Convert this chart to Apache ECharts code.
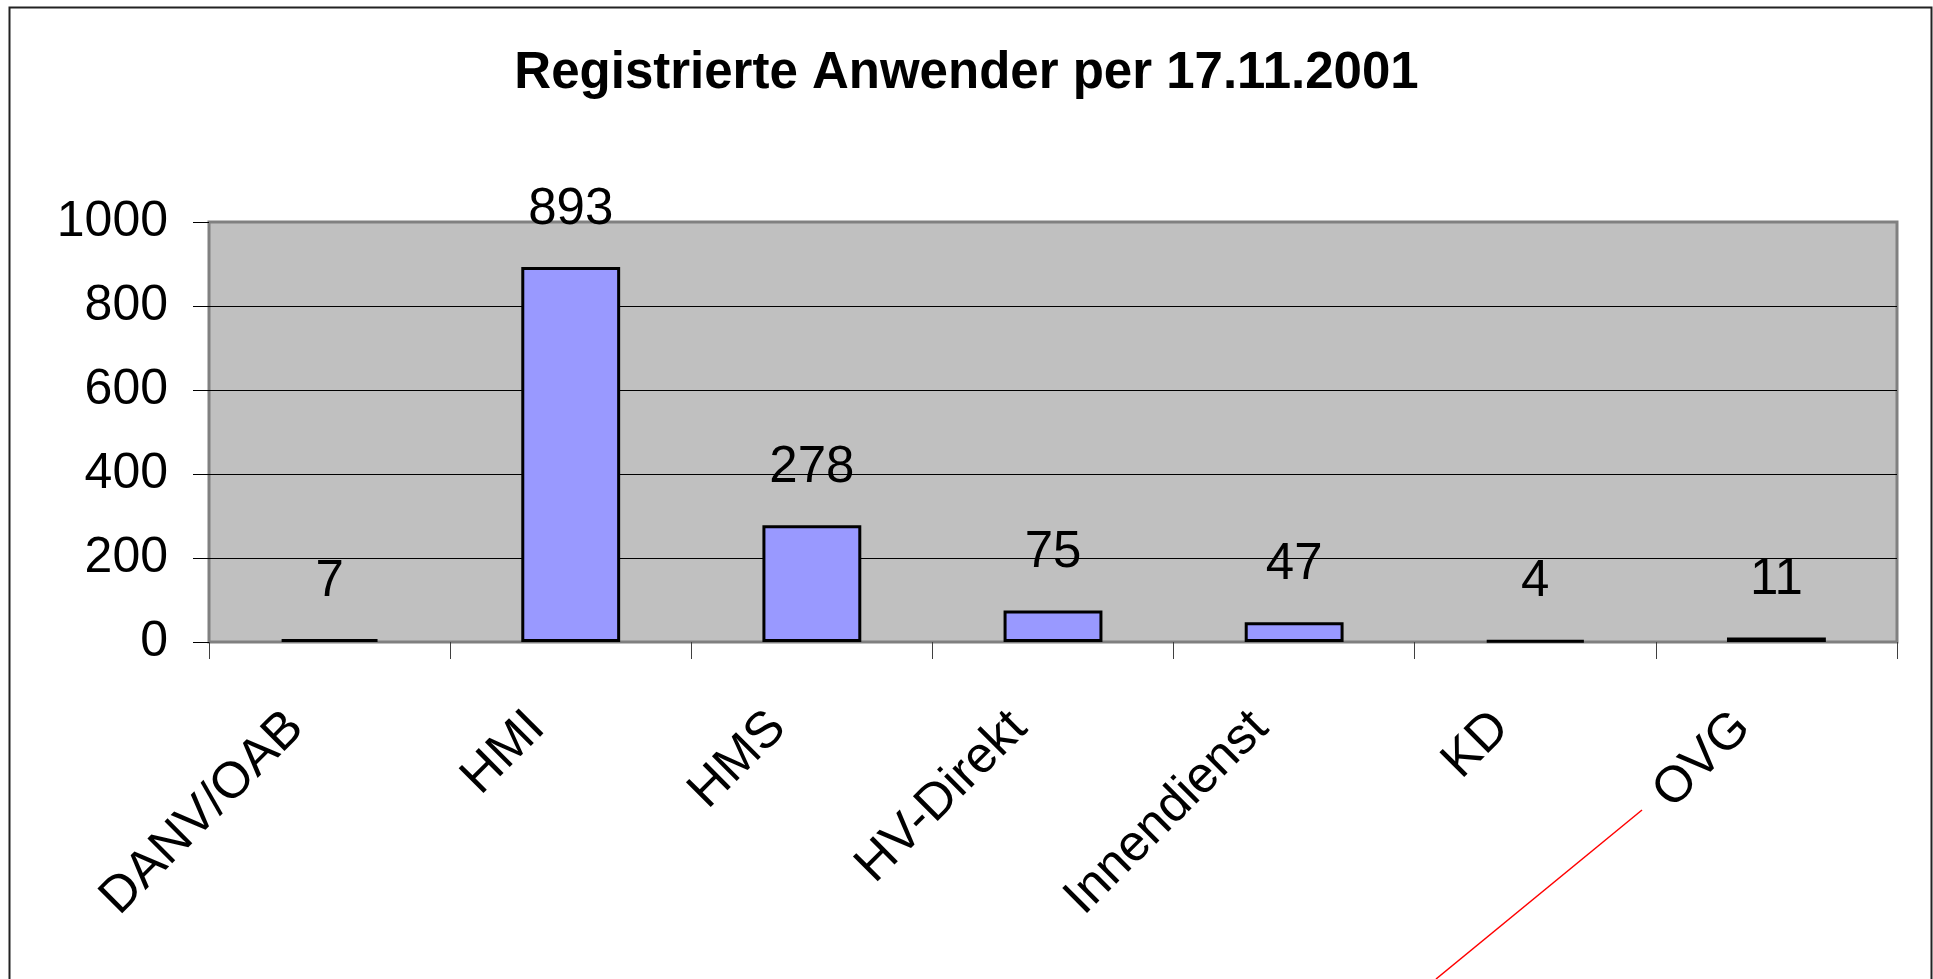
<!DOCTYPE html>
<html>
<head>
<meta charset="utf-8">
<title>Registrierte Anwender</title>
<script src="https://cdn.jsdelivr.net/npm/echarts@6/dist/echarts.min.js"></script>
<style>
  html, body { margin: 0; padding: 0; background: #fff; }
  #chart { width: 1933px; height: 979px; }
</style>
</head>
<body>
<div id="chart"></div>
<script>
// Kategorien (x-Achse)
var categories = ['DANV/OAB', 'HMI', 'HMS', 'HV-Direkt', 'Innendienst', 'KD', 'OVG'];
// Registrierte Anwender je Kategorie
var anwender = [7, 893, 278, 75, 47, 4, 11];
// Beschriftung der y-Achse
var yTicks = [0, 200, 400, 600, 800, 1000];

var chart = echarts.init(document.getElementById('chart'));
var font = "'Liberation Sans', Arial, sans-serif";

var option = {
  backgroundColor: '#ffffff',
  animation: false,
  title: {
    text: 'Registrierte Anwender per 17.11.2001',
    left: 'center',
    top: 43,
    textStyle: {
      fontFamily: font,
      fontSize: 51,
      fontWeight: 'bold',
      color: '#000'
    }
  },
  grid: {
    left: 209,
    right: 36,
    top: 222,
    bottom: 337,
    show: true,
    backgroundColor: '#C0C0C0',
    borderColor: '#808080',
    borderWidth: 3
  },
  xAxis: {
    type: 'category',
    data: categories,
    axisLine: { show: false },
    axisTick: {
      show: true,
      length: 17,
      lineStyle: { color: '#404040', width: 1 }
    },
    axisLabel: {
      interval: 0,
      rotate: 45,
      margin: 44,
      padding: [0, 48, 0, 0],
      fontFamily: font,
      fontSize: 51,
      color: '#000'
    },
    splitLine: { show: false }
  },
  yAxis: {
    type: 'value',
    min: yTicks[0],
    max: yTicks[yTicks.length - 1],
    interval: 200,
    axisLine: { show: false },
    axisTick: {
      show: true,
      length: 16,
      lineStyle: { color: '#000', width: 1 }
    },
    axisLabel: {
      margin: 41,
      fontFamily: font,
      fontSize: 50,
      color: '#000',
      formatter: function (v) { return String(v); }
    },
    splitLine: {
      show: true,
      showMinLine: false,
      showMaxLine: false,
      lineStyle: { color: '#000', width: 1 }
    }
  },
  series: [{
    type: 'bar',
    data: anwender,
    barWidth: '41%',
    itemStyle: {
      color: '#9999FF',
      borderColor: '#000',
      borderWidth: 3
    },
    label: {
      show: true,
      position: 'top',
      distance: 32,
      fontFamily: font,
      fontSize: 51,
      color: '#000'
    }
  }],
  graphic: [
    {
      type: 'rect',
      z: 100,
      shape: { x: 9.5, y: 7.5, width: 1922, height: 1000 },
      style: { fill: null, stroke: '#222', lineWidth: 2 }
    },
    {
      type: 'line',
      z: 100,
      shape: { x1: 1642, y1: 810, x2: 1436, y2: 979 },
      style: { stroke: '#ff0000', lineWidth: 1.5 }
    }
  ]
};

chart.setOption(option);
window.addEventListener('resize', function () { chart.resize(); });
</script>
</body>
</html>
